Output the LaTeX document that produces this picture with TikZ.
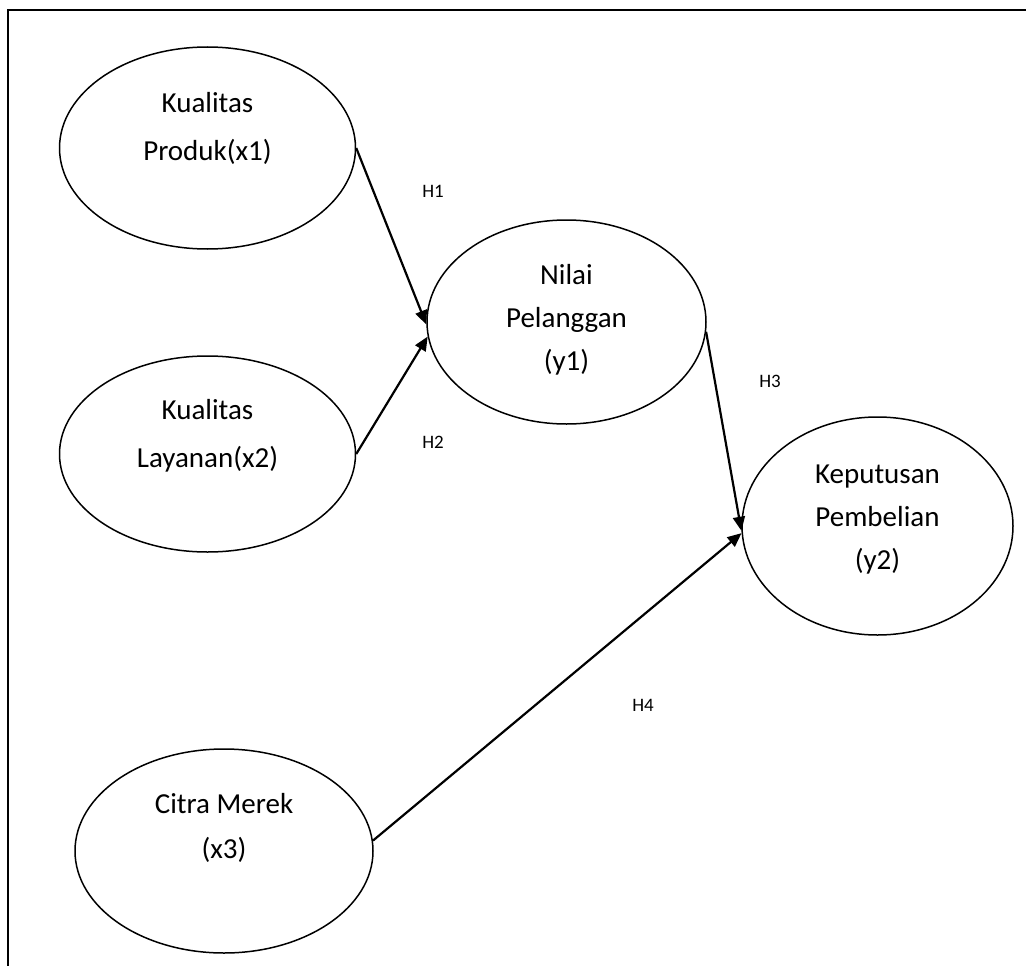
\documentclass[tikz,border=0pt]{standalone}
\usepackage{fontspec}
\setmainfont{Carlito}
\usetikzlibrary{shapes.geometric,arrows.meta}
\begin{document}
\begin{tikzpicture}[x=1pt,y=-1pt,
  var/.style={ellipse, draw, line width=1.5pt, inner sep=0pt},
  vtext/.style={align=center, font=\fontsize{29}{#1}\selectfont, inner sep=0pt},
  hyp/.style={font=\fontsize{19}{23}\selectfont, inner sep=0pt},
  link/.style={line width=2.2pt, -{Triangle[length=14pt,width=12pt]}},
  frame/.style={line width=1.8pt, line join=miter}]
\useasboundingbox (0,0) rectangle (1026,966);
\draw[frame] (8,966) -- (8,10) -- (1026,10);

\node[var, minimum width=296pt, minimum height=202pt] (x1) at (207.5,148) {};
\node[var, minimum width=296pt, minimum height=196pt] (x2) at (207.5,454) {};
\node[var, minimum width=279pt, minimum height=204pt] (y1) at (566.5,322) {};
\node[var, minimum width=271pt, minimum height=218pt] (y2) at (877.5,526) {};
\node[var, minimum width=298pt, minimum height=204pt] (x3) at (224,851) {};

\node[vtext=48] (x1t) at (207.5,128) {Kualitas\\Produk(x1)};
\node[vtext=48] (x2t) at (207.5,436) {Kualitas\\Layanan(x2)};
\node[vtext=43] (y1t) at (566.5,320) {Nilai\\Pelanggan\\(y1)};
\node[vtext=43] (y2t) at (877.5,520) {Keputusan\\Pembelian\\(y2)};
\node[vtext=45] (x3t) at (224,828) {Citra Merek\\(x3)};

\node[hyp] (h1) at (433,191) {H1};
\node[hyp] (h2) at (433,442) {H2};
\node[hyp] (h3) at (770,381) {H3};
\node[hyp] (h4) at (643,705) {H4};

\draw[link] (x1.east) -- (y1.181);
\draw[link] (x2.east) -- (y1.186);
\draw[link] (y1.356) -- (y2.182);
\draw[link] (x3.4) -- (y2.183);
\end{tikzpicture}
\end{document}
